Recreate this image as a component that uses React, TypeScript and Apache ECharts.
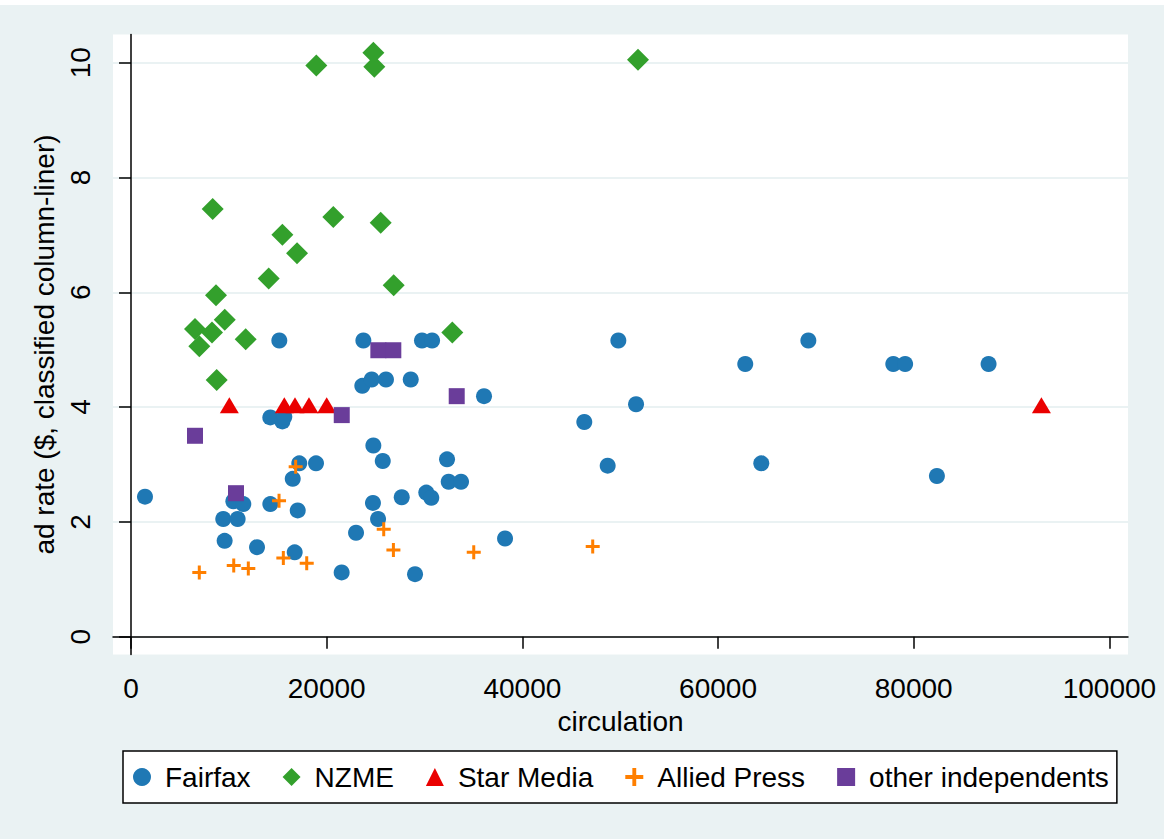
import React, { useEffect, useRef } from "react";
import * as echarts from "echarts";

// ---- data (circulation, ad rate $) ----
const fairfaxX = [15160, 23750, 29740, 30770, 23640, 24600, 26060, 28590, 36080, 14240, 15470, 15670, 24770, 25730, 17200, 18910, 16530, 32300, 32470, 33730, 30180, 30690, 27670, 24730, 25250, 1430, 10460, 11480, 14240, 17040, 9430, 10900, 9570, 12880, 16730, 23000, 21530, 29030, 38230, 49810, 51620, 46330, 48720, 62780, 69230, 77910, 79120, 87650, 64420, 82370];
const fairfaxY = [5.16, 5.16, 5.16, 5.16, 4.37, 4.48, 4.48, 4.48, 4.19, 3.82, 3.75, 3.83, 3.33, 3.06, 3.02, 3.02, 2.75, 3.09, 2.70, 2.70, 2.51, 2.42, 2.43, 2.33, 2.05, 2.44, 2.36, 2.31, 2.31, 2.20, 2.05, 2.05, 1.67, 1.56, 1.47, 1.81, 1.12, 1.09, 1.71, 5.16, 4.05, 3.74, 2.98, 4.75, 5.16, 4.75, 4.75, 4.75, 3.02, 2.80];

const nzmeX = [18940, 24770, 24870, 8350, 20680, 25520, 15470, 16970, 14070, 26850, 8690, 9580, 6540, 8280, 6980, 11720, 32840, 8760, 51820];
const nzmeY = [9.95, 10.17, 9.93, 7.45, 7.31, 7.21, 7.00, 6.68, 6.24, 6.12, 5.95, 5.52, 5.36, 5.30, 5.06, 5.18, 5.30, 4.47, 10.05];

const starX = [10050, 15670, 16760, 18190, 20000, 93050];
const starY = [4.03, 4.03, 4.03, 4.03, 4.03, 4.03];

const alliedX = [6980, 10500, 11990, 15570, 17960, 16830, 15130, 25830, 26820, 35030, 47190];
const alliedY = [1.12, 1.24, 1.19, 1.37, 1.28, 2.96, 2.37, 1.87, 1.51, 1.47, 1.57];

const otherX = [6540, 10730, 21540, 25280, 26810, 33290];
const otherY = [3.50, 2.50, 3.86, 4.99, 4.99, 4.19];

const xTicks = [0, 20000, 40000, 60000, 80000, 100000];
const yTicks = [0, 2, 4, 6, 8, 10];

const seriesNames = ["Fairfax", "NZME", "Star Media", "Allied Press", "other independents"];

const FONT = "'Liberation Sans', Arial, sans-serif";
const PLUS = "path://M5.5,0h3v14h-3zM0,5.5h14v3h-14z";

function pairs(xs: number[], ys: number[]) {
  return xs.map((x, i) => [x, ys[i]]);
}

export default function App() {
  const ref = useRef<HTMLDivElement>(null);
  useEffect(() => {
    if (!ref.current) return;
    const chart = echarts.init(ref.current, undefined, { renderer: "svg" });
    const option: any = {
      animation: false,
      backgroundColor: "#EAF2F3",
      textStyle: { fontFamily: FONT },
      graphic: [
        { type: "rect", left: 0, top: 0, shape: { width: 1164, height: 5 }, style: { fill: "#ffffff" }, silent: true },
      ],
      grid: {
        left: 113,
        right: 36,
        top: 34.5,
        bottom: 184.5,
        show: true,
        backgroundColor: "#ffffff",
        borderWidth: 0,
      },
      xAxis: {
        type: "value",
        min: -1840,
        max: 101900,
        name: "circulation",
        nameLocation: "middle",
        nameGap: 52,
        nameTextStyle: { fontSize: 28, color: "#000", fontFamily: FONT },
        axisLine: { show: true, lineStyle: { color: "#000", width: 1.5 } },
        axisTick: { show: true, length: 12, customValues: xTicks, lineStyle: { color: "#000", width: 1.5 } },
        axisLabel: {
          customValues: xTicks,
          fontSize: 28,
          color: "#000",
          margin: 20,
          fontFamily: FONT,
          formatter: (v: number) => String(v),
        },
        splitLine: { show: false },
      },
      yAxis: {
        type: "value",
        min: -0.31,
        max: 10.49,
        name: "ad rate ($, classified column-liner)",
        nameLocation: "middle",
        nameRotate: 90,
        nameGap: 42,
        nameTextStyle: { fontSize: 28, color: "#000", fontFamily: FONT },
        axisLine: { show: true, lineStyle: { color: "#000", width: 1.5 } },
        axisTick: { show: true, length: 12, customValues: yTicks, lineStyle: { color: "#000", width: 1.5 } },
        axisLabel: {
          customValues: yTicks,
          fontSize: 28,
          color: "#000",
          rotate: 90,
          margin: 19,
          fontFamily: FONT,
          formatter: (v: number) => String(v),
        },
        splitLine: { show: true, lineStyle: { color: "#EAF2F3", width: 2 } },
      },
      legend: {
        data: seriesNames,
        left: 123,
        top: 751,
        orient: "horizontal",
        itemWidth: 18,
        itemHeight: 18,
        itemGap: 32,
        symbolKeepAspect: true,
        padding: [12, 8, 12, 10],
        backgroundColor: "#ffffff",
        borderColor: "#000",
        borderWidth: 1.5,
        borderRadius: 0,
        textStyle: { fontSize: 28, color: "#000", fontFamily: FONT, padding: [0, 0, 0, 9] },
      },
      series: [
        {
          name: seriesNames[0],
          type: "scatter",
          symbol: "circle",
          symbolSize: 16,
          symbolKeepAspect: true,
          itemStyle: { color: "#1f78b4", opacity: 1 },
          data: pairs(fairfaxX, fairfaxY),
          clip: false,
        },
        {
          name: seriesNames[1],
          type: "scatter",
          symbol: "diamond",
          symbolSize: 22,
          symbolKeepAspect: true,
          itemStyle: { color: "#33a02c", opacity: 1 },
          data: pairs(nzmeX, nzmeY),
          clip: false,
        },
        {
          name: seriesNames[2],
          type: "scatter",
          symbol: "triangle",
          symbolSize: [19, 16],
          itemStyle: { color: "#ea0000", opacity: 1 },
          data: pairs(starX, starY),
          clip: false,
        },
        {
          name: seriesNames[3],
          type: "scatter",
          symbol: PLUS,
          symbolSize: 14,
          symbolKeepAspect: true,
          itemStyle: { color: "#ff7f00", opacity: 1 },
          data: pairs(alliedX, alliedY),
          clip: false,
        },
        {
          name: seriesNames[4],
          type: "scatter",
          symbol: "rect",
          symbolSize: 16,
          symbolKeepAspect: true,
          itemStyle: { color: "#6a3d9a", opacity: 1 },
          data: pairs(otherX, otherY),
          clip: false,
        },
      ],
    };
    chart.setOption(option);
    return () => chart.dispose();
  }, []);
  return (
    <div
      ref={ref}
      style={{ position: "fixed", left: 0, top: 0, width: 1164, height: 839 }}
    />
  );
}
